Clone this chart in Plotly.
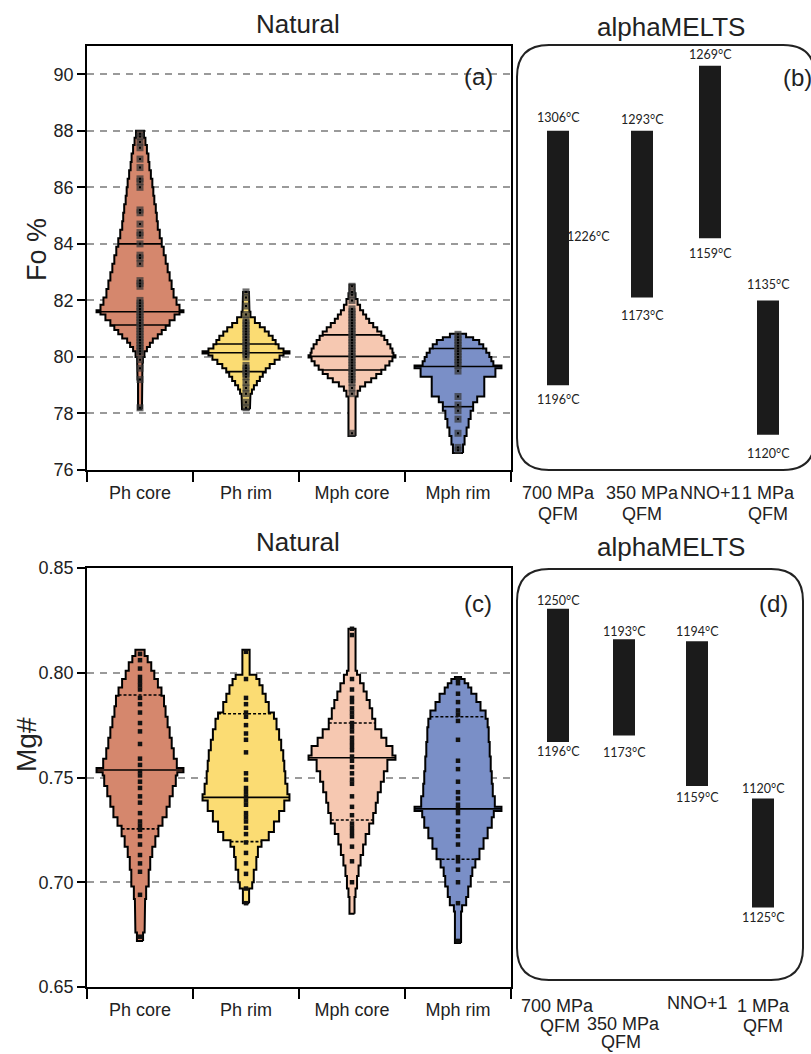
import plotly.graph_objects as go

W, H = 811, 1054

# ---------------------------------------------------------------- data
categories = ["Ph core", "Ph rim", "Mph core", "Mph rim"]

# Fo % violin profiles: band edges (bottom -> top) and relative half-width of each band
fo_levels = [
    [78.15, 79.2, 79.8, 80.0, 80.2, 80.35, 80.5, 80.65, 80.8, 80.95, 81.1, 81.3, 81.5, 81.58,
     81.65, 81.85, 82.1, 82.4, 82.7, 83.0, 83.3, 83.6, 83.9, 84.2, 84.5, 84.8, 85.1, 85.4,
     85.7, 86.0, 86.3, 86.6, 86.9, 87.2, 87.5, 87.75, 88.0],
    [78.15, 78.5, 78.7, 78.85, 79.0, 79.15, 79.3, 79.45, 79.6, 79.75, 79.9, 80.05, 80.12,
     80.2, 80.3, 80.45, 80.6, 80.75, 80.9, 81.05, 81.2, 81.4, 81.6, 82.0, 82.3],
    [77.2, 78.6, 78.8, 78.95, 79.1, 79.25, 79.4, 79.55, 79.7, 79.85, 79.98, 80.06, 80.15,
     80.3, 80.45, 80.6, 80.75, 80.9, 81.05, 81.2, 81.35, 81.5, 81.65, 81.85, 82.05, 82.25, 82.55],
    [76.6, 76.9, 77.2, 77.5, 77.8, 78.1, 78.4, 78.6, 79.3, 79.6, 79.7, 79.85, 80.0, 80.15,
     80.3, 80.45, 80.6, 80.7, 80.82],
]
fo_widths = [
    [2, 2.5, 3, 4.5, 7, 10, 13, 18, 22, 26, 30, 35, 40, 44, 40, 37, 34, 32, 30, 28, 26, 24,
     22, 20, 18, 17, 16, 14.5, 13.5, 12.5, 11, 9.5, 8.5, 7, 5.5, 4],
    [4, 4.5, 6, 8, 11, 14, 17, 20, 24, 29, 34, 38, 44, 38, 33, 30, 27, 23, 19, 14, 9, 4.5, 3.5, 3],
    [3.5, 5.5, 8, 13, 19, 24, 29, 33, 37, 40, 43, 41, 40, 38, 35, 32, 29, 25, 21, 17, 14, 11,
     8, 5.5, 3.5, 2.5],
    [5, 6.5, 8.5, 10.5, 12.5, 15, 19, 26, 37, 43, 35, 33, 31, 28, 25, 21, 15, 8],
]
fo_median = [81.6, 80.15, 80.02, 79.66]
fo_q1 = [81.13, 79.48, 79.54, 78.24]
fo_q3 = [84.0, 80.46, 80.78, 80.3]
fo_points = [
    [87.9, 87.8, 87.6, 87.4, 87.0, 86.7, 86.3, 86.2, 86.0, 85.2, 85.1, 84.7, 84.4, 84.3, 84.0,
     83.6, 83.5, 83.3, 82.7, 82.6, 82.5, 82.0, 81.9, 81.8, 81.7, 81.6, 81.5, 81.4, 81.3, 81.2,
     81.1, 81.0, 80.9, 80.8, 80.7, 80.6, 80.5, 80.4, 80.3, 80.2, 80.1, 79.9, 79.6, 79.2, 78.2],
    [82.3, 82.1, 81.8, 81.5, 81.3, 81.2, 81.1, 81.0, 80.9, 80.8, 80.7, 80.6, 80.5, 80.4, 80.3,
     80.2, 80.1, 80.0, 79.7, 79.6, 79.5, 79.4, 79.3, 79.1, 78.9, 78.7, 78.4, 78.2],
    [82.5, 82.3, 82.2, 82.0, 81.7, 81.6, 81.5, 81.4, 81.3, 81.2, 81.1, 81.0, 80.9, 80.8, 80.7,
     80.6, 80.5, 80.4, 80.3, 80.2, 80.1, 80.0, 79.9, 79.8, 79.7, 79.6, 79.5, 79.4, 79.3, 79.2,
     79.1, 78.9, 78.7, 77.3],
    [80.8, 80.7, 80.6, 80.5, 80.4, 80.3, 80.2, 80.1, 80.0, 79.9, 79.8, 79.7, 79.5, 78.6, 78.3,
     78.1, 77.8, 77.3, 76.8, 76.7],
]

# Mg# violin profiles
mg_levels = [
    [0.672, 0.676, 0.684, 0.692, 0.698, 0.706, 0.712, 0.717, 0.722, 0.727, 0.731, 0.736, 0.741,
     0.746, 0.751, 0.7525, 0.7545, 0.759, 0.764, 0.769, 0.774, 0.779, 0.784, 0.789, 0.793,
     0.797, 0.801, 0.805, 0.808, 0.811],
    [0.690, 0.697, 0.700, 0.706, 0.712, 0.717, 0.720, 0.724, 0.729, 0.734, 0.739, 0.742, 0.747,
     0.753, 0.758, 0.763, 0.768, 0.773, 0.778, 0.781, 0.786, 0.790, 0.794, 0.797, 0.799, 0.811],
    [0.685, 0.693, 0.697, 0.703, 0.708, 0.713, 0.718, 0.723, 0.728, 0.733, 0.738, 0.743, 0.748,
     0.753, 0.7585, 0.7605, 0.765, 0.769, 0.773, 0.778, 0.783, 0.787, 0.791, 0.795, 0.799,
     0.801, 0.821],
    [0.671, 0.686, 0.689, 0.693, 0.698, 0.703, 0.707, 0.711, 0.716, 0.721, 0.726, 0.731, 0.734,
     0.736, 0.741, 0.747, 0.753, 0.760, 0.767, 0.774, 0.778, 0.782, 0.786, 0.790, 0.793, 0.795,
     0.797, 0.798],
]
mg_widths = [
    [3, 4.5, 5, 6, 8.5, 10, 12, 15, 18, 22, 26, 29, 32, 35, 36.5, 42.5, 36, 33, 31, 29, 27, 25,
     23.5, 21, 17.5, 14, 11, 7.5, 4.5],
    [3, 6, 7.5, 10, 11.5, 15, 22, 27, 32, 37, 42, 40, 38, 37, 36, 34, 32, 29.5, 27, 22, 19, 16,
     13, 10, 3.5],
    [2.5, 3.5, 5, 6.5, 8.5, 11, 13.5, 17, 21, 23.5, 25.5, 28.5, 31.5, 35, 43, 40, 34, 29, 23,
     20, 17.5, 14.5, 11.5, 8, 5, 3.5],
    [3, 4, 8, 10, 12.5, 14, 17, 21, 25, 29, 33, 35, 42.5, 36, 34, 33, 32, 31, 30, 29, 27, 22,
     18, 13, 10, 6.5, 3],
]
mg_median = [0.7536, 0.7405, 0.7594, 0.735]
mg_q1 = [0.7255, 0.7194, 0.7297, 0.711]
mg_q3 = [0.7894, 0.7804, 0.776, 0.779]
mg_points = [
    [0.809, 0.806, 0.802, 0.798, 0.796, 0.794, 0.792, 0.788, 0.785, 0.781, 0.776, 0.772, 0.766,
     0.759, 0.756, 0.753, 0.751, 0.748, 0.745, 0.741, 0.738, 0.733, 0.729, 0.727, 0.725, 0.722,
     0.718, 0.713, 0.709, 0.705, 0.694, 0.674],
    [0.810, 0.797, 0.788, 0.785, 0.781, 0.779, 0.775, 0.771, 0.768, 0.762, 0.752, 0.749, 0.745,
     0.743, 0.741, 0.739, 0.737, 0.733, 0.731, 0.729, 0.726, 0.723, 0.719, 0.714, 0.709, 0.704,
     0.697, 0.690],
    [0.821, 0.818, 0.797, 0.792, 0.788, 0.786, 0.783, 0.781, 0.779, 0.776, 0.774, 0.772, 0.769,
     0.767, 0.765, 0.763, 0.760, 0.758, 0.755, 0.752, 0.749, 0.747, 0.741, 0.736, 0.732, 0.728,
     0.726, 0.724, 0.722, 0.717, 0.710, 0.700],
    [0.797, 0.795, 0.790, 0.786, 0.782, 0.780, 0.777, 0.768, 0.758, 0.754, 0.748, 0.743, 0.740,
     0.737, 0.735, 0.733, 0.729, 0.725, 0.722, 0.718, 0.712, 0.710, 0.706, 0.700, 0.690, 0.672],
]

# alphaMELTS model ranges
model_fo_top = [88.0, 88.0, 90.3, 82.0]
model_fo_bottom = [79.0, 82.1, 84.2, 77.25]
model_fo_t_top = ["1306°C", "1293°C", "1269°C", "1135°C"]
model_fo_t_bottom = ["1196°C", "1173°C", "1159°C", "1120°C"]
model_fo_t_mid = ("1226°C", 84.25)

model_mg_top = [0.8306, 0.816, 0.815, 0.740]
model_mg_bottom = [0.767, 0.770, 0.746, 0.688]
model_mg_t_top = ["1250°C", "1193°C", "1194°C", "1120°C"]
model_mg_t_bottom = ["1196°C", "1173°C", "1159°C", "1125°C"]

model_pressure = ["700 MPa", "350 MPa", "NNO+1", "1 MPa"]
model_buffer = ["QFM", "QFM", "", "QFM"]

fo_ticks = [76, 78, 80, 82, 84, 86, 88, 90]
mg_ticks = [0.65, 0.70, 0.75, 0.80, 0.85]

# ---------------------------------------------------------------- styles / layout
fills = ["#D5876D", "#FBDC73", "#F6C8B1", "#7A8FC7"]
FONT = "Liberation Sans, Arial, sans-serif"
TFONT = "Lato, Open Sans, sans-serif"
HALF_MAX = 0.41  # widest half-width of every violin, in category units


def px(x):
    return x / W


def py(y):
    return 1 - y / H


def outline(center, levels, widths):
    s = HALF_MAX / max(widths)
    xr, yr = [], []
    for i, w in enumerate(widths):
        xr += [center + w * s, center + w * s]
        yr += [levels[i], levels[i + 1]]
    xl = [2 * center - v for v in reversed(xr)]
    yl = list(reversed(yr))
    return xr + xl + [xr[0]], yr + yl + [yr[0]]


def half_at(levels, widths, y):
    s = HALF_MAX / max(widths)
    for i, w in enumerate(widths):
        if levels[i] <= y < levels[i + 1]:
            return w * s
    return widths[-1] * s


fig = go.Figure()


def add_violins(levels_all, widths_all, med, q1, q3, pts, xa, ya, qdash, pt_style):
    for i in range(4):
        xs, ys = outline(i, levels_all[i], widths_all[i])
        fig.add_trace(go.Scatter(x=xs, y=ys, xaxis=xa, yaxis=ya, mode="lines", fill="toself",
                                 fillcolor=fills[i], line=dict(color="black", width=2),
                                 hoverinfo="skip", showlegend=False))
        for val, dash in ((med[i], "solid"), (q1[i], qdash), (q3[i], qdash)):
            hw = half_at(levels_all[i], widths_all[i], val)
            fig.add_trace(go.Scatter(x=[i - hw, i + hw], y=[val, val], xaxis=xa, yaxis=ya,
                                     mode="lines", line=dict(color="black", width=1.6, dash=dash),
                                     hoverinfo="skip", showlegend=False))
        for st in pt_style:
            fig.add_trace(go.Scatter(x=[i] * len(pts[i]), y=pts[i], xaxis=xa, yaxis=ya,
                                     mode="markers", marker=st, hoverinfo="skip",
                                     showlegend=False))


add_violins(fo_levels, fo_widths, fo_median, fo_q1, fo_q3, fo_points, "x", "y", "solid",
            [dict(symbol="square", size=7, color="rgba(55,55,55,0.72)", line=dict(width=0)),
             dict(symbol="square", size=2, color="black", line=dict(width=0))])
add_violins(mg_levels, mg_widths, mg_median, mg_q1, mg_q3, mg_points, "x2", "y2", "3px,2px",
            [dict(symbol="square", size=4.5, color="#111", line=dict(width=0))])

# alphaMELTS bars (x axes run in pixel units across the right column)
bar_x_b = [558, 642, 710, 768]
bar_x_d = [558, 624, 697, 763]
fig.add_trace(go.Bar(x=bar_x_b, y=[t - b for t, b in zip(model_fo_top, model_fo_bottom)],
                     base=model_fo_bottom, width=22, marker=dict(color="#1b1b1b", line_width=0),
                     xaxis="x3", yaxis="y3", hoverinfo="skip", showlegend=False))
fig.add_trace(go.Bar(x=bar_x_d, y=[t - b for t, b in zip(model_mg_top, model_mg_bottom)],
                     base=model_mg_bottom, width=22, marker=dict(color="#1b1b1b", line_width=0),
                     xaxis="x4", yaxis="y4", hoverinfo="skip", showlegend=False))

dom_x_left = [px(87), px(511)]
dom_y_a = [py(470), py(46)]
dom_y_c = [py(987), py(568)]

line_style = dict(showline=True, linecolor="black", linewidth=1.6, mirror=True,
                  zeroline=False, automargin=False)
xcat = dict(range=[-0.5, 3.5], tickvals=[0, 1, 2, 3], ticktext=categories, ticks="outside",
            ticklen=6, tickcolor="rgba(0,0,0,0)", showgrid=False,
            tickfont=dict(family=FONT, size=18, color="#222"),
            minor=dict(tickvals=[-0.5, 0.5, 1.5, 2.5, 3.5], ticks="outside", ticklen=10,
                       tickwidth=1.6, tickcolor="black", showgrid=False))
yval = dict(showgrid=True, gridcolor="#9a9a9a", gridwidth=2, griddash="7px,6px",
            ticks="outside", ticklen=8, tickwidth=1.6, tickcolor="black",
            tickfont=dict(family=FONT, size=18, color="#222"))
hidden = dict(visible=False, automargin=False)

fig.update_layout(
    width=W, height=H, margin=dict(l=0, r=0, t=0, b=0, pad=0, autoexpand=False),
    paper_bgcolor="white", plot_bgcolor="white", showlegend=False, barmode="overlay",
    xaxis=dict(domain=dom_x_left, anchor="y", **xcat, **line_style),
    yaxis=dict(domain=dom_y_a, anchor="x", range=[76, 91], tickvals=fo_ticks, **yval, **line_style),
    xaxis2=dict(domain=dom_x_left, anchor="y2", **xcat, **line_style),
    yaxis2=dict(domain=dom_y_c, anchor="x2", range=[0.65, 0.85], tickvals=mg_ticks,
                tickformat=".2f", **yval, **line_style),
    xaxis3=dict(domain=[px(517), 1], anchor="y3", range=[517, 811], **hidden),
    yaxis3=dict(domain=dom_y_a, anchor="x3", range=[76, 91], **hidden),
    xaxis4=dict(domain=[px(517), 1], anchor="y4", range=[517, 811], **hidden),
    yaxis4=dict(domain=dom_y_c, anchor="x4", range=[0.65, 0.85], **hidden),
)


def rounded(x0, y0, x1, y1, r):
    rx, ry = r / W, r / H
    X0, X1, Y0, Y1 = px(x0), px(x1), py(y0), py(y1)
    return (f"M {X0},{Y0 - ry} Q {X0},{Y0} {X0 + rx},{Y0} L {X1 - rx},{Y0} "
            f"Q {X1},{Y0} {X1},{Y0 - ry} L {X1},{Y1 + ry} Q {X1},{Y1} {X1 - rx},{Y1} "
            f"L {X0 + rx},{Y1} Q {X0},{Y1} {X0},{Y1 + ry} Z")


fig.add_shape(type="path", path=rounded(517, 45, 815, 470, 32), xref="paper", yref="paper",
              line=dict(color="#222", width=2))
fig.add_shape(type="path", path=rounded(517, 569, 803, 980, 32), xref="paper", yref="paper",
              line=dict(color="#222", width=2))

ann = []


def text(x, y, s, size, **kw):
    ann.append(dict(x=px(x), y=py(y), xref="paper", yref="paper", text=s, showarrow=False,
                    font=dict(family=FONT, size=size, color="#222"),
                    xanchor="center", yanchor="middle", **kw))


text(298, 24, "Natural", 26)
text(671, 27, "alphaMELTS", 26)
text(298, 542, "Natural", 26)
text(671, 547, "alphaMELTS", 26)
text(478, 76, "(a)", 24)
text(797, 78, "(b)", 24)
text(478, 603, "(c)", 24)
text(773, 603, "(d)", 24)
text(37, 250, "Fo %", 27, textangle=-90)
text(26, 745, "Mg#", 28, textangle=-90)

# temperature labels on the model bars
TSIZE = 12.5
shift_b_top = [13, 11, 11, 16]
shift_b_bot = [14, 18, 15, 19]
shift_d_top = [8, 8, 10, 10]
shift_d_bot = [10, 17, 12, 10]
for i in range(4):
    ann.append(dict(x=bar_x_b[i], y=model_fo_top[i], xref="x3", yref="y3", text=model_fo_t_top[i],
                    showarrow=False, yshift=shift_b_top[i], font=dict(family=TFONT, size=TSIZE, color="#222")))
    ann.append(dict(x=bar_x_b[i], y=model_fo_bottom[i], xref="x3", yref="y3", text=model_fo_t_bottom[i],
                    showarrow=False, yshift=-shift_b_bot[i], font=dict(family=TFONT, size=TSIZE, color="#222")))
    ann.append(dict(x=bar_x_d[i], y=model_mg_top[i], xref="x4", yref="y4", text=model_mg_t_top[i],
                    showarrow=False, yshift=shift_d_top[i], font=dict(family=TFONT, size=TSIZE, color="#222")))
    ann.append(dict(x=bar_x_d[i], y=model_mg_bottom[i], xref="x4", yref="y4", text=model_mg_t_bottom[i],
                    showarrow=False, yshift=-shift_d_bot[i], font=dict(family=TFONT, size=TSIZE, color="#222")))
ann.append(dict(x=bar_x_b[0] + 30, y=model_fo_t_mid[1], xref="x3", yref="y3", text=model_fo_t_mid[0],
                showarrow=False, font=dict(family=TFONT, size=TSIZE, color="#222")))

# model condition labels below each box
for i in range(4):
    text(bar_x_b[i], 493, model_pressure[i], 18)
    if model_buffer[i]:
        text(bar_x_b[i], 514, model_buffer[i], 18)
cond_d = [(557, 1006, 560, 1026), (623, 1024, 621, 1042), (697, 1003, None, None), (763, 1006, 763, 1026)]
for i, (x1, y1, x2, y2) in enumerate(cond_d):
    text(x1, y1, model_pressure[i], 18)
    if model_buffer[i]:
        text(x2, y2, model_buffer[i], 18)

fig.update_layout(annotations=ann)
fig.write_html("out.html")
